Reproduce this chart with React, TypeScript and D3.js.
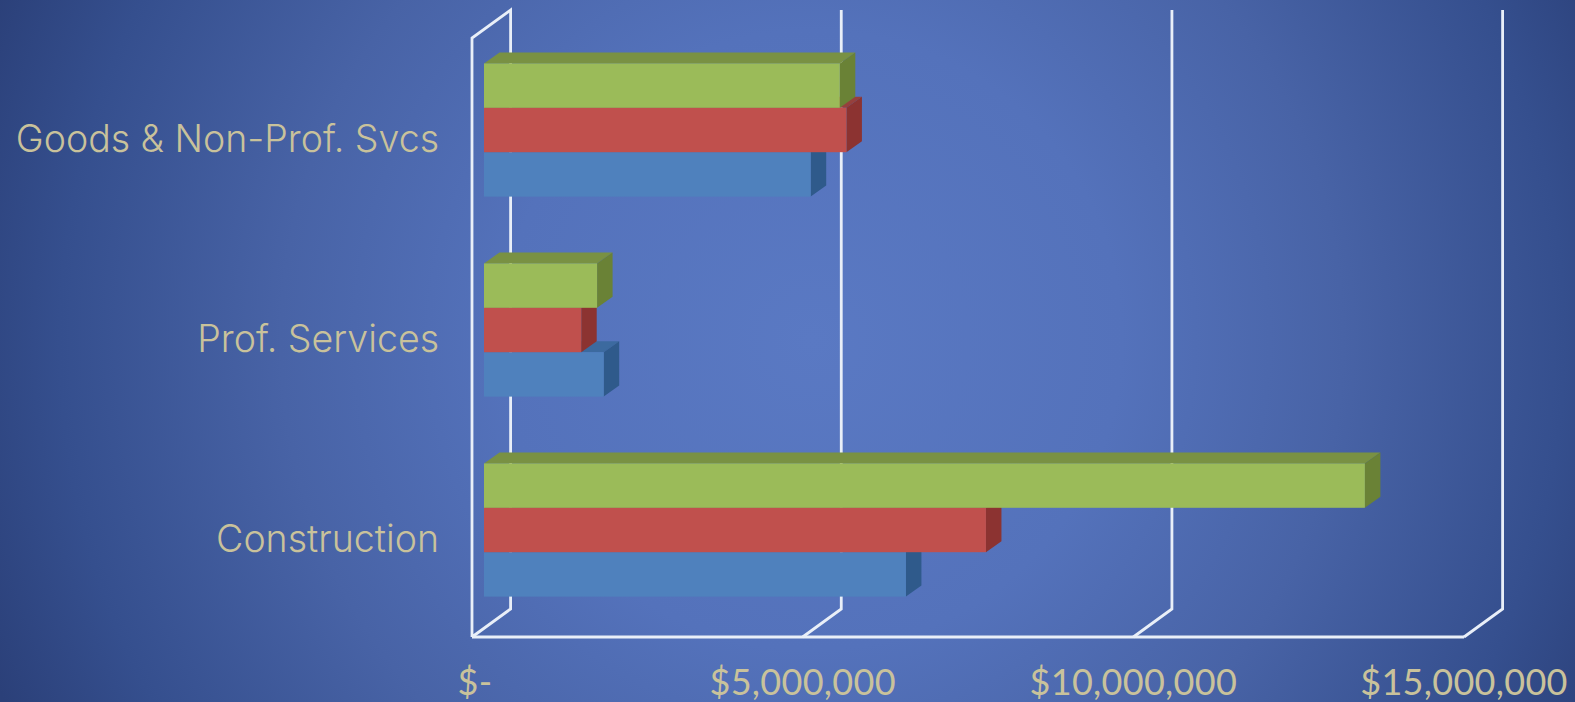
import React from "react";
import * as d3 from "d3";

const categories = ["Goods & Non-Prof. Svcs", "Prof. Services", "Construction"];
const seriesGreen = [5380000, 1710000, 13320000];
const seriesRed = [5480000, 1470000, 7590000];
const seriesBlue = [4940000, 1810000, 6380000];
const tickValues = [0, 5000000, 10000000, 15000000];
const tickLabels = ["$-", "$5,000,000", "$10,000,000", "$15,000,000"];

const W = 1575, H = 702;
const x = d3.scaleLinear().domain([0, 15000000]).range([472, 1464]);
const bandY = d3.scaleBand<string>().domain(categories).range([30, 630]);
const FLOOR = 637, TOP = 38, DX = 38.6, DY = 28;
const BAR_INSET = 12, BAR_H = 44.4, BDX = 15.5, BDY = 11;

const series = [
  { name: "blue", values: seriesBlue, slot: 2, face: "#4f81bd", top: "#3c6a9f", side: "#2f5a8b" },
  { name: "red", values: seriesRed, slot: 1, face: "#c0504d", top: "#96403d", side: "#8c3331" },
  { name: "green", values: seriesGreen, slot: 0, face: "#9bbb59", top: "#799143", side: "#6a8236" },
];

const line = d3.line();
const textFill = "#c9c29b";

export default function App() {
  return (
    <svg width={W} height={H} viewBox={`0 0 ${W} ${H}`} style={{ position: "absolute", left: 0, top: 0, display: "block" }}>
      <defs>
        <radialGradient id="bg" gradientUnits="userSpaceOnUse" cx={812} cy={340} r={885}>
          <stop offset="0" stopColor="#5a79c3" />
          <stop offset="0.35" stopColor="#5472bb" />
          <stop offset="0.6" stopColor="#4863a6" />
          <stop offset="0.85" stopColor="#354f8e" />
          <stop offset="1" stopColor="#2b4079" />
        </radialGradient>
      </defs>
      <rect width={W} height={H} fill="url(#bg)" />
      <g fill="none" stroke="#e9eff8" strokeWidth={2.8} strokeLinejoin="miter">
        <path d={line([[x(0), FLOOR], [x(0), TOP], [x(0) + DX, TOP - DY], [x(0) + DX, FLOOR - DY], [x(0), FLOOR]]) ?? ""} />
        <path d={line([[x(0), FLOOR], [x(15000000), FLOOR]]) ?? ""} />
        {tickValues.slice(1).map((v) => (
          <path key={v} d={line([[x(v), FLOOR], [x(v) + DX, FLOOR - DY], [x(v) + DX, TOP - DY]]) ?? ""} />
        ))}
      </g>
      {series.map((s) => (
        <g key={s.name}>
          {categories.map((c, i) => {
            const x0 = x(0) + BAR_INSET;
            const x1 = x(s.values[i]) + BAR_INSET;
            const groupTop = (bandY(c) ?? 0) + bandY.bandwidth() / 2 - (BAR_H * 3) / 2;
            const y0 = groupTop + s.slot * BAR_H;
            const y1 = y0 + BAR_H;
            return (
              <g key={c}>
                <path fill={s.top} d={line([[x0, y0], [x1, y0], [x1 + BDX, y0 - BDY], [x0 + BDX, y0 - BDY]]) + "Z"} />
                <path fill={s.side} d={line([[x1, y0], [x1 + BDX, y0 - BDY], [x1 + BDX, y1 - BDY], [x1, y1]]) + "Z"} />
                <rect x={x0} y={y0} width={x1 - x0} height={BAR_H} fill={s.face} />
              </g>
            );
          })}
        </g>
      ))}
      <g fill={textFill} fontFamily="Inter, 'Open Sans', sans-serif" fontWeight={300} fontSize={37.5}>
        {categories.map((c) => (
          <text key={c} x={439} y={(bandY(c) ?? 0) + bandY.bandwidth() / 2 + 21.5} textAnchor="end">{c}</text>
        ))}
      </g>
      <g fill={textFill} fontFamily="Lato, 'Open Sans', sans-serif" fontWeight={400} fontSize={36} letterSpacing={0.3}>
        {tickValues.map((v, i) => (
          <text key={v} x={x(v) + (i === 0 ? 3 : 0)} y={694.5} textAnchor="middle">{tickLabels[i]}</text>
        ))}
      </g>
    </svg>
  );
}
